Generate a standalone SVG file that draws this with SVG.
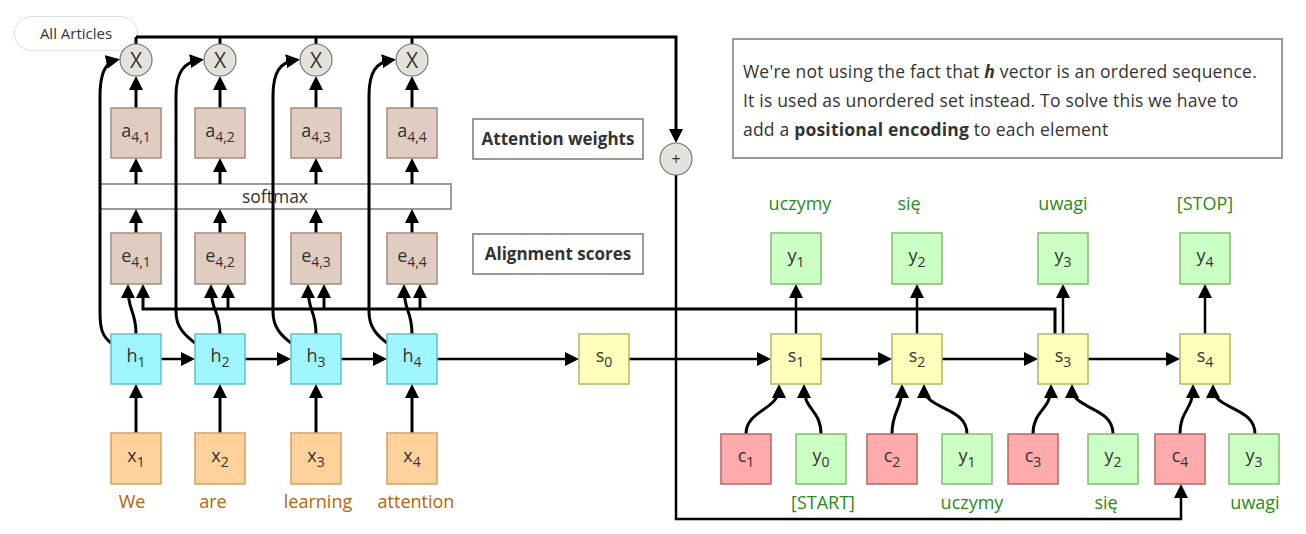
<svg xmlns="http://www.w3.org/2000/svg" width="1306" height="534" viewBox="0 0 1306 534">
<style>
text{font-family:"Open Sans","Noto Sans","DejaVu Sans",sans-serif;fill:#333}
.lbl{font-size:18px;text-anchor:middle}
.sub{font-size:14px}
.ae{fill:#e0cdc1;stroke:#a58d80;stroke-width:1.5}
.h{fill:#9ff6ff;stroke:#62bfcb;stroke-width:1.5}
.x{fill:#ffd29b;stroke:#d2a260;stroke-width:1.5}
.s{fill:#ffffbb;stroke:#b4b46c;stroke-width:1.5}
.y{fill:#ccffc4;stroke:#80bd70;stroke-width:1.5}
.c{fill:#ffabab;stroke:#b56565;stroke-width:1.5}
.op{fill:#e3e3de;stroke:#777;stroke-width:1.2}
.box{fill:#fff;stroke:#999;stroke-width:2}
.bold{font-size:17px;font-weight:bold;text-anchor:middle}
.word{font-size:18px;text-anchor:middle;fill:#b46504}
.green{font-size:18px;text-anchor:middle;fill:#2a8a17}
.note{font-size:17.5px;letter-spacing:0.2px}
.ln{fill:none;stroke:#000;stroke-width:3}
.lt{fill:none;stroke:#000;stroke-width:2.5}
.ar{marker-end:url(#ah)}
</style>
<defs>
<marker id="ah" viewBox="0 0 14 14" refX="10" refY="7" markerWidth="14" markerHeight="14" markerUnits="userSpaceOnUse" orient="auto"><path d="M0,0 L14,7 L0,14 z" fill="#000"/></marker>
</defs>

<g id="all-articles">
<rect x="14.5" y="16.5" width="123" height="34" rx="17" fill="#fff" stroke="#ddd" stroke-width="1"/>
<text x="76" y="39" style="font-size:15px;text-anchor:middle">All Articles</text>
</g>

<g id="softmax">
<rect class="box" x="100" y="184" width="351" height="25" stroke-width="1.5"/>
<text x="275" y="203" style="font-size:17.5px;text-anchor:middle">softmax</text>
</g>

<g id="connectors">
<path class="ln ar" d="M136,37 H676 V139"/>
<path class="ln" d="M136,37 V44 M220,37 V44 M316,37 V44 M412,37 V44"/>
<path class="lt ar" d="M676,175 V519 H1181 V488"/>
<path class="ln ar" d="M111,343 C102,336 100,328 100,312 V96 C100,72 106,62 116,60"/>
<path class="ln ar" d="M195,343 C186,336 176,328 176,312 V96 C176,72 184,62 200,60"/>
<path class="ln ar" d="M291,343 C282,336 273,328 273,312 V96 C273,72 280,62 296,60"/>
<path class="ln ar" d="M387,343 C378,336 369,328 369,312 V96 C369,72 376,62 392,60"/>
<path class="ln ar" d="M136,334 C136,310 128,312 128,288"/>
<path class="ln ar" d="M220,334 C220,310 211,312 211,288"/>
<path class="ln ar" d="M316,334 C316,310 308,312 308,288"/>
<path class="ln ar" d="M412,334 C412,310 404,312 404,288"/>
<path class="ln ar" d="M1055,334 V309 H143 V288"/>
<path class="ln ar" d="M228,309 V288"/>
<path class="ln ar" d="M324,309 V288"/>
<path class="ln ar" d="M420,309 V288"/>
<path class="ln ar" d="M136,233 V213"/><path class="ln ar" d="M220,233 V213"/><path class="ln ar" d="M316,233 V213"/><path class="ln ar" d="M412,233 V213"/>
<path class="ln ar" d="M136,184 V162"/><path class="ln ar" d="M220,184 V162"/><path class="ln ar" d="M316,184 V162"/><path class="ln ar" d="M412,184 V162"/>
<path class="ln ar" d="M136,108 V80"/><path class="ln ar" d="M220,108 V80"/><path class="ln ar" d="M316,108 V80"/><path class="ln ar" d="M412,108 V80"/>
<path class="ln ar" d="M136,433 V388"/><path class="ln ar" d="M220,433 V388"/><path class="ln ar" d="M316,433 V388"/><path class="ln ar" d="M412,433 V388"/>
<path class="lt ar" d="M161,359 H191"/><path class="lt ar" d="M245,359 H287"/><path class="lt ar" d="M341,359 H383"/>
<path class="lt ar" d="M437,359 H575"/><path class="lt ar" d="M629,359 H767"/><path class="lt ar" d="M821,359 H888"/>
<path class="lt ar" d="M942,359 H1034"/><path class="lt ar" d="M1088,359 H1176"/>
<path class="lt ar" d="M796,334 V288"/><path class="lt ar" d="M917,334 V288"/><path class="lt ar" d="M1063,334 V288"/><path class="lt ar" d="M1205,334 V288"/>
<path class="ln ar" d="M746,434 C746,410 779,410 779,388"/>
<path class="ln ar" d="M821,434 C821,410 804,410 804,388"/>
<path class="ln ar" d="M892,434 C892,410 902,410 902,388"/>
<path class="ln ar" d="M967,434 C967,406 924,410 924,388"/>
<path class="ln ar" d="M1033,434 C1033,410 1051,410 1051,388"/>
<path class="ln ar" d="M1113,434 C1113,406 1072,410 1072,388"/>
<path class="ln ar" d="M1180,434 C1180,410 1193,410 1193,388"/>
<path class="ln ar" d="M1255,434 C1255,406 1213,410 1213,388"/>
</g>

<g id="X1"><circle class="op" cx="136" cy="60" r="16"/><text x="136" y="68" style="font-size:21px;text-anchor:middle">X</text></g>
<g id="X2"><circle class="op" cx="220" cy="60" r="16"/><text x="220" y="68" style="font-size:21px;text-anchor:middle">X</text></g>
<g id="X3"><circle class="op" cx="316" cy="60" r="16"/><text x="316" y="68" style="font-size:21px;text-anchor:middle">X</text></g>
<g id="X4"><circle class="op" cx="412" cy="60" r="16"/><text x="412" y="68" style="font-size:21px;text-anchor:middle">X</text></g>
<g id="plus"><circle class="op" cx="676" cy="159" r="16"/><text x="676" y="165" style="font-size:16px;text-anchor:middle">+</text></g>

<g id="a1"><rect class="ae" x="111" y="108" width="50" height="50"/><text class="lbl" x="136" y="137">a<tspan class="sub" dy="5">4,1</tspan></text></g>
<g id="a2"><rect class="ae" x="195" y="108" width="50" height="50"/><text class="lbl" x="220" y="137">a<tspan class="sub" dy="5">4,2</tspan></text></g>
<g id="a3"><rect class="ae" x="291" y="108" width="50" height="50"/><text class="lbl" x="316" y="137">a<tspan class="sub" dy="5">4,3</tspan></text></g>
<g id="a4"><rect class="ae" x="387" y="108" width="50" height="50"/><text class="lbl" x="412" y="137">a<tspan class="sub" dy="5">4,4</tspan></text></g>

<g id="e1"><rect class="ae" x="111" y="233" width="50" height="51"/><text class="lbl" x="136" y="262">e<tspan class="sub" dy="5">4,1</tspan></text></g>
<g id="e2"><rect class="ae" x="195" y="233" width="50" height="51"/><text class="lbl" x="220" y="262">e<tspan class="sub" dy="5">4,2</tspan></text></g>
<g id="e3"><rect class="ae" x="291" y="233" width="50" height="51"/><text class="lbl" x="316" y="262">e<tspan class="sub" dy="5">4,3</tspan></text></g>
<g id="e4"><rect class="ae" x="387" y="233" width="50" height="51"/><text class="lbl" x="412" y="262">e<tspan class="sub" dy="5">4,4</tspan></text></g>

<g id="h1"><rect class="h" x="111" y="334" width="50" height="50"/><text class="lbl" x="136" y="362">h<tspan class="sub" dy="5">1</tspan></text></g>
<g id="h2"><rect class="h" x="195" y="334" width="50" height="50"/><text class="lbl" x="220" y="362">h<tspan class="sub" dy="5">2</tspan></text></g>
<g id="h3"><rect class="h" x="291" y="334" width="50" height="50"/><text class="lbl" x="316" y="362">h<tspan class="sub" dy="5">3</tspan></text></g>
<g id="h4"><rect class="h" x="387" y="334" width="50" height="50"/><text class="lbl" x="412" y="362">h<tspan class="sub" dy="5">4</tspan></text></g>

<g id="x1"><rect class="x" x="111" y="433" width="50" height="51"/><text class="lbl" x="136" y="462">x<tspan class="sub" dy="5">1</tspan></text><text class="word" x="132" y="508">We</text></g>
<g id="x2"><rect class="x" x="195" y="433" width="50" height="51"/><text class="lbl" x="220" y="462">x<tspan class="sub" dy="5">2</tspan></text><text class="word" x="213" y="508">are</text></g>
<g id="x3"><rect class="x" x="291" y="433" width="50" height="51"/><text class="lbl" x="316" y="462">x<tspan class="sub" dy="5">3</tspan></text><text class="word" x="318" y="508">learning</text></g>
<g id="x4"><rect class="x" x="387" y="433" width="50" height="51"/><text class="lbl" x="412" y="462">x<tspan class="sub" dy="5">4</tspan></text><text class="word" x="416" y="508">attention</text></g>

<g id="attention-weights"><rect class="box" x="473" y="119" width="170" height="40"/><text class="bold" x="558" y="145">Attention weights</text></g>
<g id="alignment-scores"><rect class="box" x="473" y="234" width="170" height="40"/><text class="bold" x="558" y="260">Alignment scores</text></g>

<g id="note">
<rect class="box" x="733" y="39" width="549" height="119"/>
<text class="note" x="743" y="78">We're not using the fact that <tspan font-weight="bold" font-style="italic">h</tspan> vector is an ordered sequence.</text>
<text class="note" x="743" y="107">It is used as unordered set instead. To solve this we have to</text>
<text class="note" x="743" y="136">add a <tspan font-weight="bold">positional encoding</tspan> to each element</text>
</g>

<g id="s0"><rect class="s" x="579" y="334" width="50" height="50"/><text class="lbl" x="604" y="362">s<tspan class="sub" dy="5">0</tspan></text></g>
<g id="s1"><rect class="s" x="771" y="334" width="50" height="50"/><text class="lbl" x="796" y="362">s<tspan class="sub" dy="5">1</tspan></text></g>
<g id="s2"><rect class="s" x="892" y="334" width="50" height="50"/><text class="lbl" x="917" y="362">s<tspan class="sub" dy="5">2</tspan></text></g>
<g id="s3"><rect class="s" x="1038" y="334" width="50" height="50"/><text class="lbl" x="1063" y="362">s<tspan class="sub" dy="5">3</tspan></text></g>
<g id="s4"><rect class="s" x="1180" y="334" width="50" height="50"/><text class="lbl" x="1205" y="362">s<tspan class="sub" dy="5">4</tspan></text></g>

<g id="out-y1"><rect class="y" x="771" y="233" width="50" height="51"/><text class="lbl" x="796" y="262">y<tspan class="sub" dy="5">1</tspan></text><text class="green" x="800" y="210">uczymy</text></g>
<g id="out-y2"><rect class="y" x="892" y="233" width="50" height="51"/><text class="lbl" x="917" y="262">y<tspan class="sub" dy="5">2</tspan></text><text class="green" x="909" y="210">się</text></g>
<g id="out-y3"><rect class="y" x="1038" y="233" width="50" height="51"/><text class="lbl" x="1063" y="262">y<tspan class="sub" dy="5">3</tspan></text><text class="green" x="1063" y="210">uwagi</text></g>
<g id="out-y4"><rect class="y" x="1180" y="233" width="50" height="51"/><text class="lbl" x="1205" y="262">y<tspan class="sub" dy="5">4</tspan></text><text class="green" x="1205" y="210">[STOP]</text></g>

<g id="c1"><rect class="c" x="721" y="434" width="50" height="50"/><text class="lbl" x="746" y="462">c<tspan class="sub" dy="5">1</tspan></text></g>
<g id="in-y0"><rect class="y" x="796" y="434" width="50" height="50"/><text class="lbl" x="821" y="462">y<tspan class="sub" dy="5">0</tspan></text><text class="green" x="823" y="509">[START]</text></g>
<g id="c2"><rect class="c" x="867" y="434" width="50" height="50"/><text class="lbl" x="892" y="462">c<tspan class="sub" dy="5">2</tspan></text></g>
<g id="in-y1"><rect class="y" x="942" y="434" width="50" height="50"/><text class="lbl" x="967" y="462">y<tspan class="sub" dy="5">1</tspan></text><text class="green" x="972" y="509">uczymy</text></g>
<g id="c3"><rect class="c" x="1008" y="434" width="50" height="50"/><text class="lbl" x="1033" y="462">c<tspan class="sub" dy="5">3</tspan></text></g>
<g id="in-y2"><rect class="y" x="1088" y="434" width="50" height="50"/><text class="lbl" x="1113" y="462">y<tspan class="sub" dy="5">2</tspan></text><text class="green" x="1106" y="509">się</text></g>
<g id="c4"><rect class="c" x="1155" y="434" width="50" height="50"/><text class="lbl" x="1180" y="462">c<tspan class="sub" dy="5">4</tspan></text></g>
<g id="in-y3"><rect class="y" x="1229" y="434" width="50" height="50"/><text class="lbl" x="1254" y="462">y<tspan class="sub" dy="5">3</tspan></text><text class="green" x="1255" y="509">uwagi</text></g>
</svg>
